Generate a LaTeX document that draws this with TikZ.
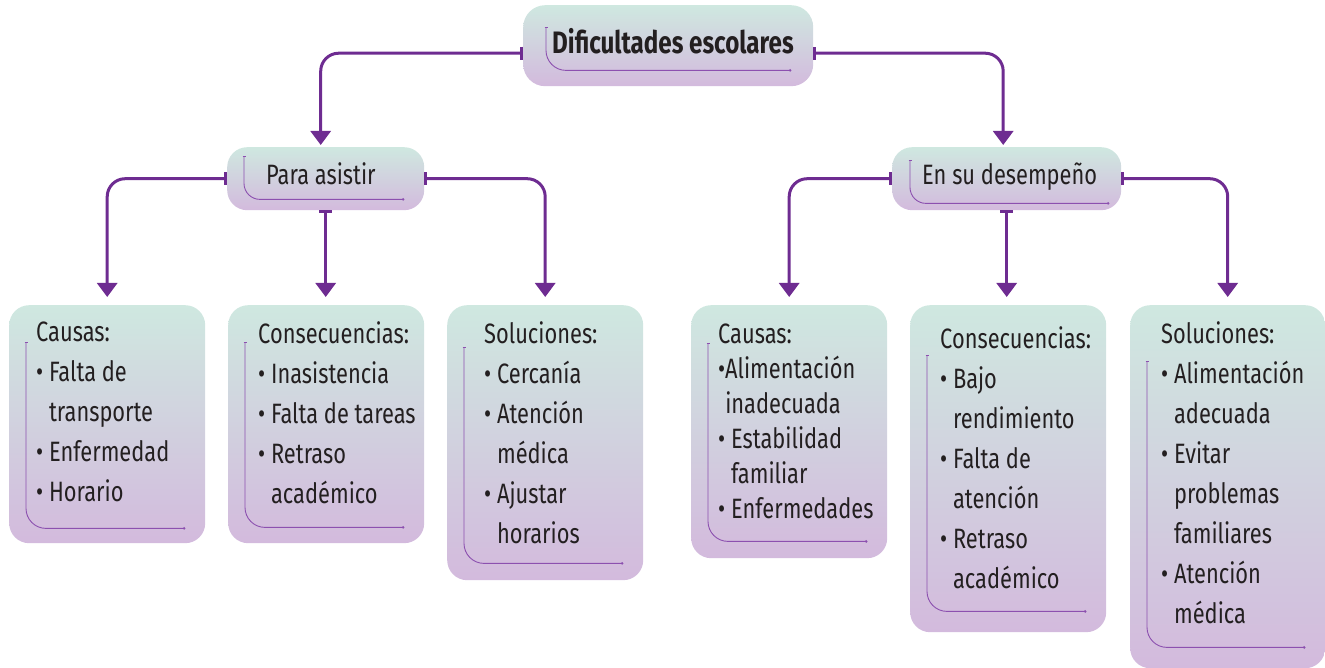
\documentclass[tikz,border=0pt]{standalone}
\usepackage{fontspec}
\setmainfont{Fira Sans}[FakeStretch=0.78]
\usetikzlibrary{positioning}
\usetikzlibrary{calc}
\usetikzlibrary{arrows.meta}
\definecolor{lila}{RGB}{110,44,145}
\definecolor{lilaclaro}{RGB}{140,80,175}
\definecolor{verdeclaro}{RGB}{207,232,224}
\definecolor{malva}{RGB}{211,186,221}
\definecolor{tinta}{RGB}{35,31,32}
\newcommand{\bul}{\textbullet\ }
\newcommand{\ind}{\phantom{\textbullet\ }}
\tikzset{
  caja/.style={rounded corners=20pt, top color=verdeclaro, bottom color=malva, draw=none, inner sep=0pt, minimum width=196pt, anchor=north west},
  flecha/.style={draw=lila, line width=3pt, rounded corners=18pt, {Bar[width=13pt]}-{Triangle[width=20pt,length=14pt]}},
  adorno/.style={draw=lilaclaro, line width=0.9pt, rounded corners=20pt, {Bar[width=3pt]}-{Circle[length=2.5pt]}},
  texto/.style={text=tinta, inner sep=0pt, align=left, anchor=north west},
  titulo/.style={text=tinta, inner sep=0pt, anchor=base west},
}

\begin{document}
\begin{tikzpicture}[x=1pt, y=-1pt]
        \useasboundingbox (0,0) rectangle (1325,668);
        % boxes %
        \node[caja, minimum width=290pt, minimum height=81pt, rounded corners=22pt] (dificultades) at (523,5) {};
        \node[caja, minimum width=197pt, minimum height=63pt] (asistir) at (227,147) {};
        \node[caja, minimum width=229pt, minimum height=63pt] (desempeno) at (892,147) {};
        \node[caja, minimum height=238pt] (causasA) at (9,305) {};
        \node[caja, minimum height=238pt] (consecA) at (228,305) {};
        \node[caja, minimum height=275pt] (solucA) at (447,305) {};
        \node[caja, minimum height=253pt] (causasB) at (691,305) {};
        \node[caja, minimum height=327pt] (consecB) at (910,305) {};
        \node[caja, minimum width=195pt, minimum height=363pt] (solucB) at (1130,305) {};

        % texts %
        \node[titulo, font=\bfseries\fontsize{31}{36}\selectfont] (dificultades-t) at (552,54) {Dificultades escolares};
        \node[titulo, font=\fontsize{28}{40}\selectfont] (asistir-t) at (266,185) {Para asistir};
        \node[titulo, font=\fontsize{28}{40}\selectfont] (desempeno-t) at (922,185) {En su desempeño};

        \node[texto, font=\fontsize{28}{40}\selectfont] (causasA-t) at (36,313)
          {\strut Causas:\\ \bul Falta de\\ \ind transporte\\ \bul Enfermedad\\ \bul Horario};
        \node[texto, font=\fontsize{28}{40}\selectfont] (consecA-t) at (258,315)
          {\strut Consecuencias:\\ \bul Inasistencia\\ \bul Falta de tareas\\ \bul Retraso\\ \ind académico};
        \node[texto, font=\fontsize{28}{40}\selectfont] (solucA-t) at (484,315)
          {\strut Soluciones:\\ \bul Cercanía\\ \bul Atención\\ \ind médica\\ \bul Ajustar\\ \ind horarios};
        \node[texto, font=\fontsize{28}{35}\selectfont] (causasB-t) at (718,318.5)
          {\strut Causas:\\ \textbullet Alimentación\\ \phantom{\textbullet}inadecuada\\ \bul Estabilidad\\ \ind familiar\\ \bul Enfermedades};
        \node[texto, font=\fontsize{28}{40}\selectfont] (consecB-t) at (940,320)
          {\strut Consecuencias:\\ \bul Bajo\\ \ind rendimiento\\ \bul Falta de\\ \ind atención\\ \bul Retraso\\ \ind académico};
        \node[texto, font=\fontsize{28}{40}\selectfont] (solucB-t) at (1161,315)
          {\strut Soluciones:\\ \bul Alimentación\\ \ind adecuada\\ \bul Evitar\\ \ind problemas\\ \ind familiares\\ \bul Atención\\ \ind médica};

        % inner lines %
        \draw[adorno] ([shift={(23pt,-22pt)}]dificultades.north west) |- ([shift={(-22pt,16pt)}]dificultades.south east);
        \draw[adorno, rounded corners=16pt] ([shift={(17pt,-9pt)}]asistir.north west) |- ([shift={(-20pt,11pt)}]asistir.south east);
        \draw[adorno, rounded corners=16pt] ([shift={(18pt,-13pt)}]desempeno.north west) |- ([shift={(-12pt,7pt)}]desempeno.south east);
        \foreach \caja/\arriba/\abajo in {causasA/37/15, consecA/37/16, solucA/42/17, causasB/38/17, consecB/50/21, solucB/56/21}
          \draw[adorno] ([shift={(17pt,-\arriba pt)}]\caja.north west) |- ([shift={(-20pt,\abajo pt)}]\caja.south east);

        % edges %
        \draw[flecha, shorten >=2pt] ([yshift=-7.5pt]dificultades.west) -| ([xshift=-5pt]asistir.north);
        \draw[flecha, shorten >=2pt] ([yshift=-7.5pt]dificultades.east) -| ([xshift=-3.5pt]desempeno.north);
        \draw[flecha, shorten >=8pt] (asistir.west) -| (causasA.north);
        \draw[flecha, shorten >=8pt] (asistir.south) -- (asistir.south |- consecA.north);
        \draw[flecha, shorten >=8pt] (asistir.east) -| (solucA.north);
        \draw[flecha, shorten >=8pt] (desempeno.west) -| (causasB.north);
        \draw[flecha, shorten >=8pt] (desempeno.south) -- (desempeno.south |- consecB.north);
        \draw[flecha, shorten >=8pt] (desempeno.east) -| (solucB.north);
\end{tikzpicture}
\end{document}
